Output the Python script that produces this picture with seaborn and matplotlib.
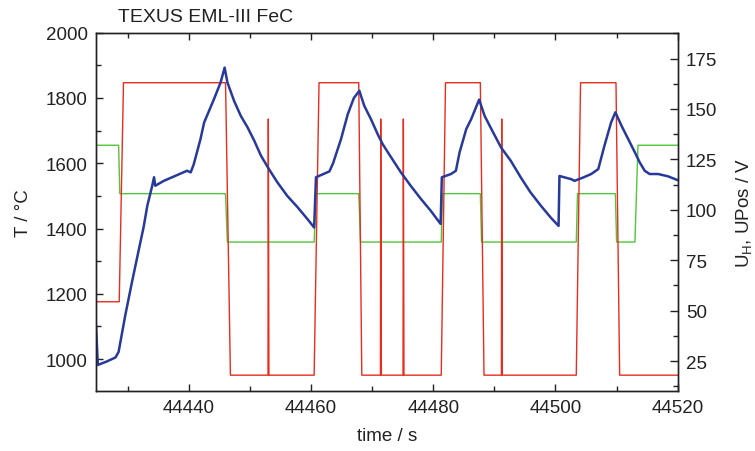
import numpy as np
import pandas as pd
import seaborn as sns
import matplotlib
matplotlib.use("Agg")
import matplotlib.pyplot as plt
from matplotlib.ticker import MultipleLocator

# temperature (left axis)
t_time = [44424.8, 44425.1, 44426.5, 44428.0, 44428.5, 44429.6, 44430.7, 44431.5,
          44432.6, 44433.2, 44434.0, 44434.3, 44434.5, 44435.9, 44439.7, 44440.3,
          44440.8, 44441.9, 44442.5, 44444.1, 44445.2, 44445.85,
          44446.3, 44447.4, 44448.5, 44449.6, 44450.7, 44451.8, 44453.1, 44454.5,
          44456.1, 44457.8, 44459.4, 44460.5, 44460.8,
          44463.0, 44463.6, 44464.9, 44466.0, 44467.0, 44467.9,
          44468.7, 44469.8, 44470.9, 44471.7, 44473.1, 44474.7, 44476.3, 44478.0,
          44479.6, 44481.2, 44481.4,
          44482.9, 44483.7, 44484.3, 44485.4, 44486.2, 44487.5,
          44488.4, 44489.5, 44491.1, 44492.7, 44494.3, 44495.9, 44497.6, 44499.2,
          44500.5, 44500.65,
          44502.6, 44503.1, 44504.5, 44505.85, 44507.0, 44508.0, 44509.1, 44509.8,
          44510.8, 44511.9, 44513.0, 44513.8, 44514.6, 44515.4, 44516.8, 44518.4,
          44520.3]
t_temp = [1104, 982, 992, 1005, 1022, 1135, 1237, 1308,
          1405, 1470, 1531, 1557, 1531, 1546, 1577, 1572,
          1597, 1674, 1725, 1796, 1848, 1893,
          1848, 1791, 1745, 1710, 1669, 1623, 1582, 1541,
          1500, 1465, 1429, 1403, 1557,
          1575, 1600, 1674, 1750, 1800, 1822,
          1776, 1735, 1689, 1659, 1618, 1572, 1531, 1490,
          1454, 1414, 1557,
          1567, 1577, 1633, 1705, 1735, 1795,
          1745, 1705, 1648, 1607, 1557, 1511, 1470, 1434,
          1408, 1561,
          1551, 1546, 1556, 1567, 1582, 1653, 1725, 1756,
          1715, 1674, 1633, 1602, 1577, 1567, 1567, 1560,
          1546]

# heater voltage U_H (right axis)
uh_time = [44424.5, 44428.6, 44429.3, 44446.0, 44446.8, 44452.95, 44453.0, 44453.1,
           44460.5, 44461.3, 44467.8, 44468.3, 44471.35, 44471.4, 44471.5,
           44475.05, 44475.1, 44475.2, 44481.3, 44482.0, 44487.7, 44488.3,
           44491.15, 44491.2, 44491.3, 44503.4, 44504.1, 44509.9, 44510.5, 44520.5]
uh_volt = [54.4, 54.4, 163, 163, 18, 18, 145, 18,
           18, 163, 163, 18, 18, 145, 18,
           18, 145, 18, 18, 163, 163, 18,
           18, 145, 18, 18, 163, 163, 18, 18]

# positioning voltage UPos (right axis)
up_time = [44424.5, 44428.5, 44428.7, 44446.0, 44446.3, 44460.5, 44460.8, 44467.8,
           44468.1, 44481.3, 44481.5, 44487.7, 44487.9, 44503.4, 44503.6, 44509.8,
           44510.0, 44513.0, 44513.5, 44520.5]
up_volt = [132, 132, 108, 108, 84, 84, 108, 108,
           84, 84, 108, 108, 84, 84, 108, 108,
           84, 84, 132, 132]

sns.set_style("ticks")
plt.rcParams["font.family"] = ["Liberation Sans", "DejaVu Sans"]
plt.rcParams["mathtext.fontset"] = "custom"
plt.rcParams["mathtext.rm"] = "Liberation Sans"
plt.rcParams["mathtext.it"] = "Liberation Sans:italic"

fig = plt.figure(figsize=(7.55, 4.52), dpi=100)
ax = fig.add_axes([96 / 755, 1 - 391.7 / 452, 581.7 / 755, 358 / 452])
ax2 = ax.twinx()

temp = pd.DataFrame({"time": t_time, "T": t_temp})
uh = pd.DataFrame({"time": uh_time, "U": uh_volt})
up = pd.DataFrame({"time": up_time, "U": up_volt})

sns.lineplot(data=up, x="time", y="U", ax=ax2, color="#4fc63b", lw=1.0,
             estimator=None, sort=False)
sns.lineplot(data=uh, x="time", y="U", ax=ax2, color="#e82c1e", lw=1.0,
             estimator=None, sort=False)
sns.lineplot(data=temp, x="time", y="T", ax=ax, color="#27399b", lw=1.8,
             estimator=None, sort=False)

ax.set_zorder(ax2.get_zorder() + 1)
ax.patch.set_visible(False)

ax.set_xlim(44424.8, 44520)
ax.set_ylim(903, 2000)
ax2.set_ylim(10.3, 187.8)

ax.xaxis.set_major_locator(MultipleLocator(20))
ax.xaxis.set_minor_locator(MultipleLocator(10))
ax.yaxis.set_major_locator(MultipleLocator(200))
ax.yaxis.set_minor_locator(MultipleLocator(100))
ax2.yaxis.set_major_locator(MultipleLocator(25))
ax2.yaxis.set_minor_locator(MultipleLocator(12.5))

ax.tick_params(which="both", direction="in", top=True, right=False,
               colors="#222222", labelsize=13.5, width=1.0)
ax.tick_params(which="major", length=5, pad=6)
ax.tick_params(which="minor", length=3.5)
ax2.tick_params(which="both", direction="in", right=True, left=False,
                colors="#222222", labelsize=13.5, width=1.0)
ax2.tick_params(which="major", length=5.5, pad=6)
ax2.tick_params(which="minor", length=3.5)

for a in (ax, ax2):
    for s in a.spines.values():
        s.set_visible(True)
        s.set_linewidth(1.0)
        s.set_color("#222222")

ax.set_xlabel("time / s", fontsize=13.5, labelpad=8, color="#222222")
ax.set_ylabel("T / °C", fontsize=13.5, labelpad=10, color="#222222")
ax2.set_ylabel("U$_\\mathrm{H}$, UPos / V", fontsize=13.5, labelpad=12, color="#222222")

fig.text(118 / 755, 1 - 21.7 / 452, "TEXUS EML-III FeC", fontsize=14,
         ha="left", va="baseline", color="#222222")

fig.savefig("out.png", dpi=100)
